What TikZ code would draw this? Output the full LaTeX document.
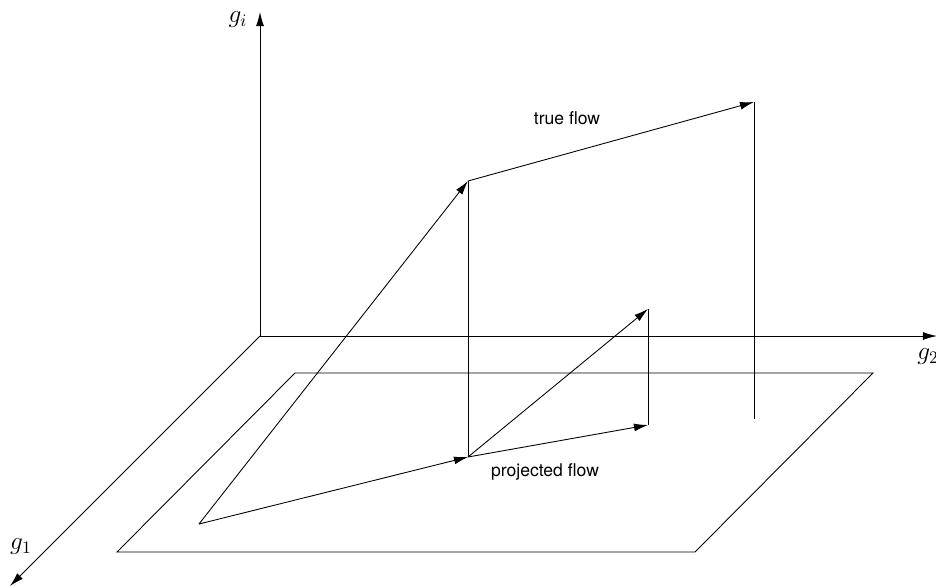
\documentclass[tikz,border=0pt]{standalone}
\usepackage{fontspec}
\setsansfont{TeX Gyre Heros}
\usetikzlibrary{arrows.meta}

\begin{document}
\begin{tikzpicture}[x=0.02cm, y=-0.02cm, line width=0.5pt, every node/.style={inner sep=1.5pt, font=\sffamily},
  flow/.style={-{Latex[length=8pt,width=4.5pt]}}, axlabel/.style={font=\Large}]
  \useasboundingbox (0,0) rectangle (936,585);
  % axes
  \coordinate (o) at (260,336);
  \coordinate (gi) at (260,12);
  \coordinate (g2) at (937,336);
  \coordinate (g1) at (10,586);
  \draw[flow] (o) -- (gi);
  \draw[flow] (o) -- (g2);
  \draw[flow] (o) -- (g1);
  \node[axlabel] (lgi) at (238,20) {$g_i$};
  \node[axlabel] (lg2) at (928,357) {$g_2$};
  \node[axlabel] (lg1) at (21,547) {$g_1$};
  % plane
  \coordinate (p1) at (117,552);
  \coordinate (p2) at (695,552);
  \coordinate (p3) at (873,373);
  \coordinate (p4) at (295,373);
  \draw (p1) -- (p2) -- (p3) -- (p4) -- cycle;
  % flows
  \coordinate (a) at (199,524);
  \coordinate (b) at (468,181);
  \coordinate (c) at (754,102);
  \coordinate (d) at (468,457);
  \coordinate (e) at (648,425);
  \coordinate (f) at (648,309);
  \coordinate (cb) at (754,419);
  \draw[flow] (a) -- (b);
  \draw[flow] (b) -- (c);
  \draw (b) -- (d);
  \draw (c) -- (cb);
  \draw[flow] (a) -- (d);
  \draw[flow] (d) -- (e);
  \draw[flow] (d) -- (f);
  \draw (e) -- (f);
  \node (ltrue) at (567,118) {true flow};
  \node (lproj) at (545,472) {projected flow};
\end{tikzpicture}
\end{document}
